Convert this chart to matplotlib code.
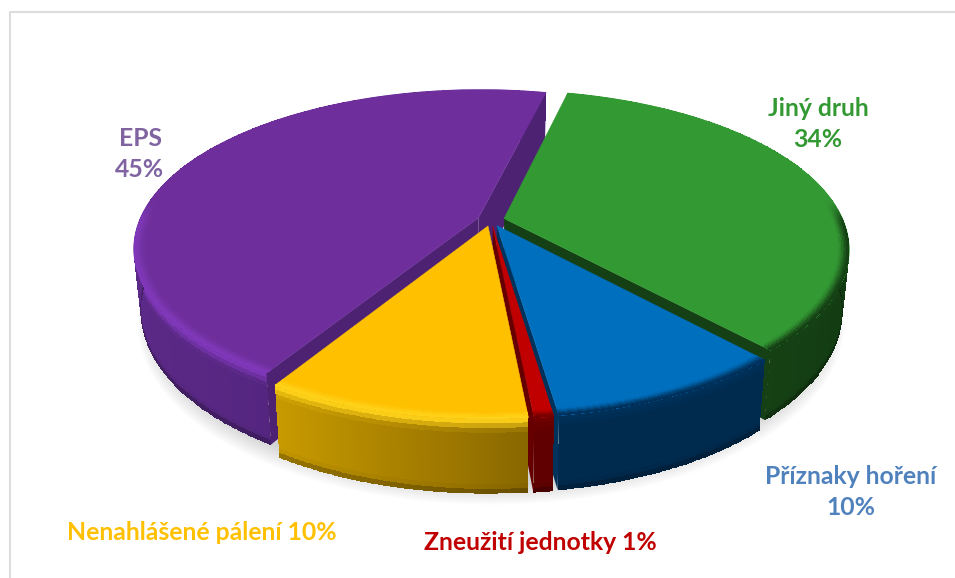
import numpy as np
from matplotlib import pyplot as plt
from matplotlib.colors import to_rgb

plt.rcParams['font.family'] = ['Lato', 'DejaVu Sans']

labels = ['Jiný druh\n34%', 'Příznaky hoření\n10%', 'Zneužití jednotky 1%', 'Nenahlášené pálení 10%', 'EPS\n45%']
# slice sizes as they look in the picture (the labels are rounded)
values = [34.6, 9.4, 0.75, 10.25, 45]

top_colors = ['#339933', '#006FBE', '#C00000', '#FFC000', '#6E2F9C']
text_colors = ['#339933', '#4F81BD', '#C00000', '#FFC000', '#8064A2']
face_colors = ['#153F14', '#00335C', '#660000', '#8A6A00', '#4E2272']
rim_left = ['#1A4A18', '#002A4E', '#600000', '#C89A00', '#5C2A88']
rim_right = ['#123A12', '#002A4E', '#600000', '#8A6800', '#4A2074']
bevel_colors = ['#153F14', '#002F58', '#700000', '#FFD21A', '#8038BA']

label_pos = [(818, 124), (851, 492), (540, 542), (202, 532), (140, 154)]

# pie geometry, in pixels of the 955x578 picture
cx, cy = 491, 220
rx, ry = 339, 153.4
persp = 0.1907
depth = 60
shrink = 0.02
explode = 0.04
start_angle = 76.7


def project(x, y, z=0.0):
    den = 1 + persp * y
    sx = cx + rx * x / den * (1 - shrink * z)
    sy = cy - ry * y / den + depth * z / den
    return sx, sy


def smooth(v):
    v = np.clip(v, 0, 1)
    return v * v * (3 - 2 * v)


fig = plt.figure(figsize=(9.55, 5.78), dpi=100)
ax = fig.add_axes([0, 0, 1, 1])
ax.set_xlim(0, 955)
ax.set_ylim(578, 0)
ax.axis('off')

# frame, only top and left show
ax.plot([955, 10, 10], [12, 12, 578], color='#DCDCDC', lw=1.5, zorder=0)

# soft shadow under the front half
tt = np.deg2rad(np.linspace(160, 380, 200))
for k in range(14, -1, -1):
    grow = 1.004 + 0.002 * k
    sx, sy = project(grow * np.cos(tt), grow * np.sin(tt) - 0.0035 * k, 1.0)
    ax.fill(sx, sy, color='#707070', alpha=0.02, lw=0, zorder=1)

# angles of every wedge, clockwise from the start angle
sweeps = 360 * np.array(values) / sum(values)
ends = start_angle - np.cumsum(sweeps)
starts = ends + sweeps

# side parts first (back to front), then all tops, then the bevels
draw_order = [4, 0, 1, 2, 3]
z_side = 2
for i in draw_order:
    t = np.deg2rad(np.linspace(starts[i], ends[i], max(int(sweeps[i] * 3), 6)))
    mid = np.deg2rad((starts[i] + ends[i]) / 2)
    ox, oy = explode * np.cos(mid), explode * np.sin(mid)
    col_top = np.array(to_rgb(top_colors[i]))
    col_bev = np.array(to_rgb(bevel_colors[i]))
    col_l = np.array(to_rgb(rim_left[i]))
    col_r = np.array(to_rgb(rim_right[i]))

    # rim, going down from the top edge
    zs = np.linspace(0, 1, 17)
    T, Z = np.meshgrid(t, zs)
    sx, sy = project(ox + np.cos(T), oy + np.sin(T), Z)
    tc = (t[:-1] + t[1:]) / 2
    zc = (zs[:-1] + zs[1:]) / 2
    xc = (ox + np.cos(tc))
    fx = ((xc - xc.min()) / (xc.max() - xc.min()))[None, :, None]
    base = col_l * (1 - fx) + col_r * fx
    w = smooth(1 - zc / 0.2)[:, None, None]
    front = smooth((0.15 - (oy + np.sin(tc))) / 0.2)[None, :, None]
    bev = col_top * (1 - front) + col_bev * front
    rgb = base * (1 - w) + bev * w
    rgb = rgb * (1 - 0.3 * smooth((zc - 0.88) / 0.12))[:, None, None]
    ax.pcolormesh(sx, sy, np.clip(rgb, 0, 1), shading='flat', zorder=z_side)
    z_side += 1

    # cut faces, only those turned to the viewer
    for a, sign in ((t[0], -1), (t[-1], 1)):
        if sign * np.cos(a) <= 0:
            continue
        fx, fy = project(np.array([ox, ox + np.cos(a), ox + np.cos(a), ox]),
                         np.array([oy, oy + np.sin(a), oy + np.sin(a), oy]),
                         np.array([0, 0, 1, 1]))
        ax.fill(fx, fy, color=face_colors[i], lw=0, zorder=z_side)
    z_side += 1

for i in draw_order:
    t = np.deg2rad(np.linspace(starts[i], ends[i], max(int(sweeps[i] * 3), 6)))
    mid = np.deg2rad((starts[i] + ends[i]) / 2)
    ox, oy = explode * np.cos(mid), explode * np.sin(mid)
    col_top = np.array(to_rgb(top_colors[i]))
    col_bev = np.array(to_rgb(bevel_colors[i]))

    px = np.r_[ox, ox + np.cos(t)]
    py = np.r_[oy, oy + np.sin(t)]
    sx, sy = project(px, py)
    ax.fill(sx, sy, color=top_colors[i], lw=0.4, ec=top_colors[i], zorder=30)

    # bevel on the top surface near the rim
    rs = np.linspace(0.965, 1.0, 9)
    T, R = np.meshgrid(t, rs)
    sx, sy = project(ox + R * np.cos(T), oy + R * np.sin(T))
    tc = (t[:-1] + t[1:]) / 2
    rc = (rs[:-1] + rs[1:]) / 2
    w = smooth((rc - 0.965) / 0.035)[:, None, None]
    front = smooth((0.15 - (oy + np.sin(tc))) / 0.2)[None, :, None]
    rgb = col_top * (1 - w * front) + col_bev * w * front
    ax.pcolormesh(sx, sy, rgb, shading='flat', zorder=31)

for label, col, pos in zip(labels, text_colors, label_pos):
    ax.text(pos[0], pos[1], label, color=col, fontsize=17.8, fontweight='bold',
            ha='center', va='center', linespacing=1.45, zorder=40)

fig.savefig('out.png', dpi=100, facecolor='white')
